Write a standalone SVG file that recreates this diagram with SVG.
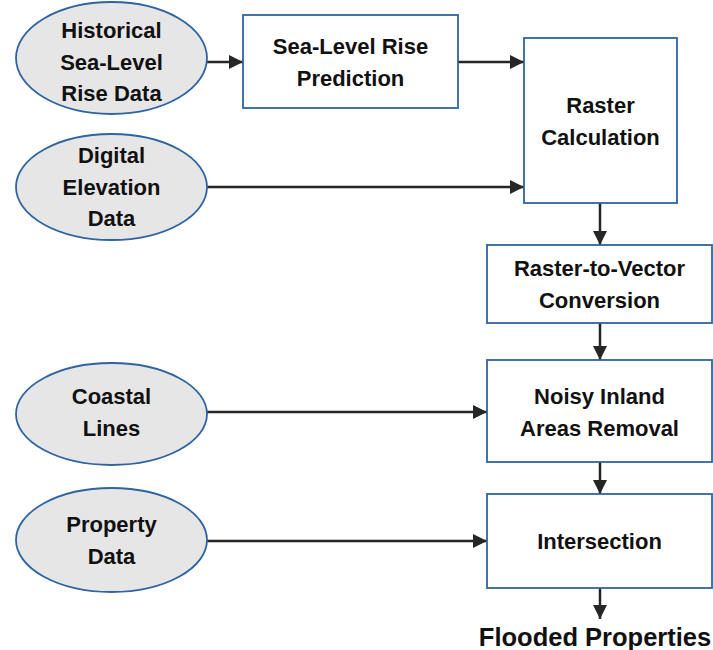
<svg xmlns="http://www.w3.org/2000/svg" width="713" height="650" viewBox="0 0 713 650">
<defs>
<marker id="ah" markerUnits="userSpaceOnUse" markerWidth="14" markerHeight="14" viewBox="0 0 14 14" refX="14" refY="7" orient="auto">
<path d="M0,0 L14,7 L0,14 Z" fill="#262626"/>
</marker>
</defs>
<style>
.ell{fill:#e7e6e6;stroke:#2e64a0;stroke-width:1.8}
.box{fill:#ffffff;stroke:#2e64a0;stroke-width:1.8}
.t{font-family:"Liberation Sans",Arial,sans-serif;font-weight:bold;font-size:22px;fill:#111;text-anchor:middle}
.c{fill:none;stroke:#262626;stroke-width:2.5;marker-end:url(#ah)}
</style>
<g id="connectors">
<line class="c" x1="207" y1="62" x2="243" y2="62"/>
<line class="c" x1="458" y1="62" x2="524" y2="62"/>
<line class="c" x1="207" y1="187" x2="524" y2="187"/>
<line class="c" x1="600" y1="203" x2="600" y2="245"/>
<line class="c" x1="600" y1="323" x2="600" y2="360"/>
<line class="c" x1="207" y1="412" x2="487" y2="412"/>
<line class="c" x1="600" y1="462" x2="600" y2="494"/>
<line class="c" x1="207" y1="541" x2="487" y2="541"/>
<line class="c" x1="600" y1="588" x2="600" y2="619"/>
</g>
<g id="historical">
<ellipse class="ell" cx="111.5" cy="58" rx="95.5" ry="56"/>
<text class="t" x="111.5" y="38">Historical</text>
<text class="t" x="111.5" y="70">Sea-Level</text>
<text class="t" x="111.5" y="101">Rise Data</text>
</g>
<g id="slr-prediction">
<rect class="box" x="243" y="15" width="215" height="93"/>
<text class="t" x="350.5" y="54">Sea-Level Rise</text>
<text class="t" x="350.5" y="86">Prediction</text>
</g>
<g id="dem">
<ellipse class="ell" cx="111.5" cy="187" rx="95.5" ry="53"/>
<text class="t" x="111.5" y="163">Digital</text>
<text class="t" x="111.5" y="195">Elevation</text>
<text class="t" x="111.5" y="226">Data</text>
</g>
<g id="raster-calc">
<rect class="box" x="524" y="38" width="153" height="165"/>
<text class="t" x="600.5" y="113">Raster</text>
<text class="t" x="600.5" y="145">Calculation</text>
</g>
<g id="r2v">
<rect class="box" x="487" y="245" width="225" height="78"/>
<text class="t" x="599.5" y="276">Raster-to-Vector</text>
<text class="t" x="599.5" y="308">Conversion</text>
</g>
<g id="coastal">
<ellipse class="ell" cx="111.5" cy="414" rx="95.5" ry="51"/>
<text class="t" x="111.5" y="404">Coastal</text>
<text class="t" x="111.5" y="436">Lines</text>
</g>
<g id="noisy">
<rect class="box" x="487" y="360" width="225" height="102"/>
<text class="t" x="599.5" y="404">Noisy Inland</text>
<text class="t" x="599.5" y="436">Areas Removal</text>
</g>
<g id="property">
<ellipse class="ell" cx="111.5" cy="540" rx="95.5" ry="52"/>
<text class="t" x="111.5" y="532">Property</text>
<text class="t" x="111.5" y="564">Data</text>
</g>
<g id="intersection">
<rect class="box" x="487" y="494" width="225" height="94"/>
<text class="t" x="599.5" y="549">Intersection</text>
</g>
<g id="flooded">
<text class="t" x="595" y="646" style="font-size:25.5px">Flooded Properties</text>
</g>
</svg>
